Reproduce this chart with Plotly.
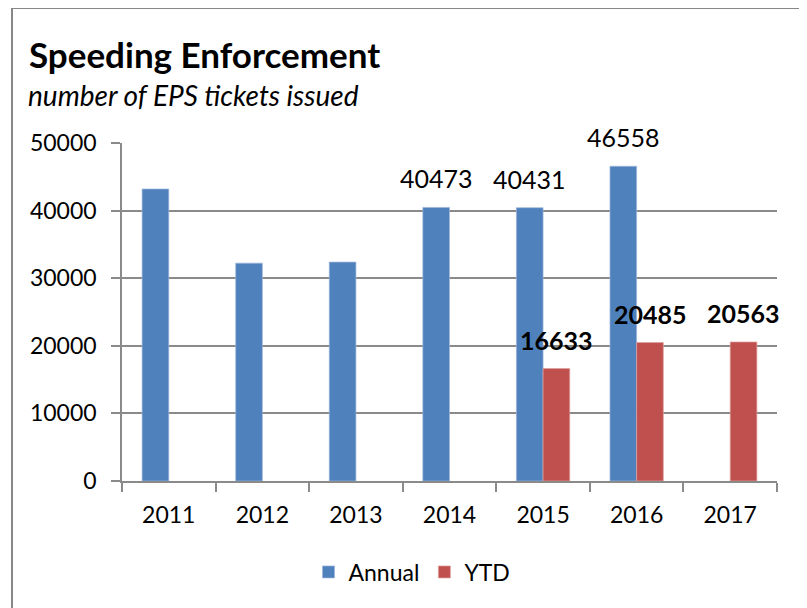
import plotly.graph_objects as go

years = ["2011", "2012", "2013", "2014", "2015", "2016", "2017"]
annual = [43200, 32230, 32380, 40473, 40431, 46558, None]
ytd = [None, None, None, None, 16633, 20485, 20563]
annual_labeled = ["2014", "2015", "2016"]
ytd_labeled = ["2015", "2016", "2017"]

BLUE = "#4F81BD"
RED = "#C0504D"
GRID = "#8A8A8A"
FONT = "Lato"

OFF = 8  # page body margin
W, H = 807 - OFF, 608 - OFF
L, T = 122 - OFF, 143 - OFF
R = W - (777 - OFF)
B = H - (481 - OFF)
pw = W - L - R
ph = H - T - B


def px_x(x):
    return (x - OFF - L) / pw


def px_y(y):
    return (ph - (y - OFF - T)) / ph


fig = go.Figure()
fig.add_trace(go.Bar(name="Annual", x=years, y=annual, marker=dict(color=BLUE, line=dict(width=0.7, color="#9DB6DA"))))
fig.add_trace(go.Bar(name="YTD", x=years, y=ytd, marker=dict(color=RED, line=dict(width=0.7, color="#E0A09E"))))

annotations = []
for i, (yr, v) in enumerate(zip(years, annual)):
    if yr in annual_labeled and v is not None:
        annotations.append(dict(x=i, y=v, xref="x", yref="y", text=str(v), showarrow=False,
                                xshift=-13.4, yshift=29, yanchor="middle",
                                font=dict(family=FONT, size=25, color="black")))
for i, (yr, v) in enumerate(zip(years, ytd)):
    if yr in ytd_labeled and v is not None:
        annotations.append(dict(x=i, y=v, xref="x", yref="y", text="<b>" + str(v) + "</b>", showarrow=False,
                                xshift=13.4, yshift=29, yanchor="middle",
                                font=dict(family=FONT, size=25, color="black")))

annotations.append(dict(x=px_x(27), y=px_y(54), xref="paper", yref="paper",
                        text="<b>Speeding Enforcement</b>",
                        showarrow=False, xanchor="left", yanchor="middle",
                        font=dict(family=FONT, size=35, color="black")))
annotations.append(dict(x=px_x(26), y=px_y(95), xref="paper", yref="paper",
                        text="<i>number of EPS tickets issued</i>",
                        showarrow=False, xanchor="left", yanchor="middle",
                        font=dict(family=FONT, size=28, color="black")))

BORDER = "#878787"
fig.update_layout(
    width=W, height=H,
    margin=dict(l=L, r=R, t=T, b=B),
    paper_bgcolor="white", plot_bgcolor="white",
    barmode="group", bargap=0.43, bargroupgap=0,
    font=dict(family=FONT, size=23, color="black"),
    showlegend=True,
    legend=dict(orientation="h", x=px_x(412), xanchor="center", y=px_y(572), yanchor="middle",
                font=dict(family=FONT, size=23, color="black"), traceorder="normal"),
    annotations=annotations,
    shapes=[
        dict(type="line", xref="paper", yref="paper", x0=px_x(12), x1=px_x(805), y0=px_y(8), y1=px_y(8),
             line=dict(color=BORDER, width=2)),
        dict(type="line", xref="paper", yref="paper", x0=px_x(12), x1=px_x(12), y0=px_y(8), y1=px_y(640),
             line=dict(color=BORDER, width=2)),
        dict(type="line", xref="paper", yref="paper", x0=px_x(803), x1=px_x(803), y0=px_y(8), y1=px_y(640),
             line=dict(color=BORDER, width=2)),
    ],
)
fig.update_xaxes(type="category", categoryorder="array", categoryarray=years, range=[-0.5, 6.5],
                 showline=True, linecolor=GRID, linewidth=1.5,
                 ticks="outside", ticklen=9, tickcolor=GRID, tickwidth=1.5, tickson="boundaries",
                 ticklabelstandoff=13, showgrid=False, tickangle=0,
                 tickfont=dict(family=FONT, size=23, color="black"))
fig.update_yaxes(range=[0, 50000], dtick=10000, showline=True, linecolor=GRID, linewidth=1.5,
                 ticks="outside", ticklen=9, tickcolor=GRID, tickwidth=1.5,
                 showgrid=True, gridcolor=GRID, gridwidth=1.5, zeroline=False,
                 ticklabelstandoff=10, tickformat="d",
                 tickfont=dict(family=FONT, size=23, color="black"))

fig.write_html("out.html")
